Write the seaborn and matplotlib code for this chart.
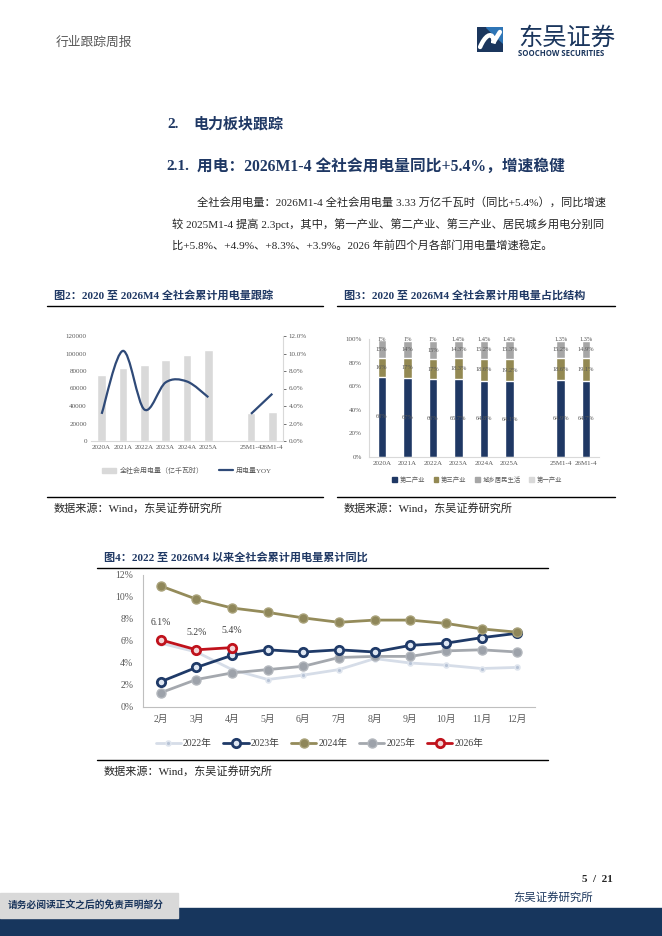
import numpy as np
import pandas as pd
import matplotlib
matplotlib.use('Agg')
import matplotlib.pyplot as plt
import seaborn as sns
from matplotlib.lines import Line2D
from matplotlib.patches import Rectangle, Patch, PathPatch, Polygon
from matplotlib.path import Path

sns.set_theme(style='white')
FAM = ['Liberation Serif', 'Noto Sans CJK SC']
plt.rcParams['font.family'] = FAM
plt.rcParams['axes.unicode_minus'] = False

# ---- data ----
cats2 = ['2020A', '2021A', '2022A', '2023A', '2024A', '2025A', '25M1-4', '26M1-4']
power_use = [75110, 83128, 86372, 92241, 98521, 103500, 31600, 33300]   # 亿千瓦时
power_yoy = [3.1, 10.3, 3.6, 6.7, 6.8, 5.0, 3.1, 5.4]                   # %

share_ind2 = [68, 67, 66, 65.7, 64.8, 64.1, 64.9, 64.7]
share_ind3 = [16, 17, 17, 18.3, 18.6, 19.2, 18.6, 19.1]
share_res = [15, 14, 15, 14.3, 15.2, 15.3, 15.2, 14.9]
share_ind1 = [1, 1, 1, 1.4, 1.4, 1.4, 1.3, 1.3]
share_names = ['第二产业', '第三产业', '城乡居民生活', '第一产业']

months = ['2月', '3月', '4月', '5月', '6月', '7月', '8月', '9月', '10月', '11月', '12月']
yoy_2022 = [5.8, 5.0, 3.4, 2.5, 2.9, 3.4, 4.4, 4.0, 3.8, 3.5, 3.6]
yoy_2023 = [2.3, 3.6, 4.7, 5.2, 5.0, 5.2, 5.0, 5.6, 5.8, 6.3, 6.7]
yoy_2024 = [11.0, 9.8, 9.0, 8.6, 8.1, 7.7, 7.9, 7.9, 7.6, 7.1, 6.8]
yoy_2025 = [1.3, 2.5, 3.1, 3.4, 3.7, 4.5, 4.6, 4.6, 5.1, 5.2, 5.0]
yoy_2026 = [6.1, 5.2, 5.4]

NAVY = '#1f3864'
OLIVE = '#938953'
GRAY = '#a6a6a6'
LIGHT = '#d9d9d9'
TXT = '#262626'
TICK = '#595959'

W, H = 662, 936
fig = plt.figure(figsize=(W / 100, H / 100), dpi=100)


def fx(x):
    return x / W


def fy(y):
    return 1 - y / H


def box(x0, y0, x1, y1):
    return [fx(x0), fy(y1), (x1 - x0) / W, (y1 - y0) / H]


def hline(x0, x1, y, lw=1.0, color='black'):
    fig.add_artist(Line2D([fx(x0), fx(x1)], [fy(y), fy(y)], lw=lw, color=color,
                          transform=fig.transFigure))


def put(x, y, s, size, **kw):
    kw.setdefault('color', TXT)
    kw.setdefault('va', 'center')
    fig.text(fx(x), fy(y), s, fontsize=size, **kw)


# ---- page header ----
put(56, 43, '行业跟踪周报', 9.2, color='#595959')

lg = fig.add_axes(box(477, 27, 503, 52))
lg.set_xlim(0, 1)
lg.set_ylim(0, 1)
lg.axis('off')
lg.add_patch(Rectangle((0, 0), 1, 1, color='#1b365d'))
lg.add_patch(Polygon([(0.35, 1), (1, 1), (1, 0.35)], color='#2e75b6'))
swirl = Path([(0.12, 0.2), (0.3, 0.65), (0.55, 0.8), (0.62, 0.55),
              (0.68, 0.3), (0.5, 0.2), (0.88, 0.8)],
             [Path.MOVETO, Path.CURVE4, Path.CURVE4, Path.CURVE4,
              Path.CURVE4, Path.CURVE4, Path.CURVE4])
lg.add_patch(PathPatch(swirl, fc='none', ec='white', lw=3.2, capstyle='round'))
put(518, 38, '东吴证券', 17.5, family='Noto Sans CJK SC', color='#1b365d')
put(518, 54, 'SOOCHOW SECURITIES', 5.6, family='Open Sans', weight='bold', color='#1b365d')

put(167, 124, '2.', 11, weight='bold', color=NAVY)
put(193, 124, '电力板块跟踪', 10.8, weight='bold', color=NAVY)
put(166, 167, '2.1.', 11, weight='bold', color=NAVY)
put(197, 167, '用电：2026M1-4 全社会用电量同比+5.4%，增速稳健', 11.3, weight='bold', color=NAVY)

put(197, 202, '全社会用电量：2026M1-4 全社会用电量 3.33 万亿千瓦时（同比+5.4%），同比增速', 8.1)
put(172, 224, '较 2025M1-4 提高 2.3pct，其中，第一产业、第二产业、第三产业、居民城乡用电分别同', 8.1)
put(172, 245, '比+5.8%、+4.9%、+8.3%、+3.9%。2026 年前四个月各部门用电量增速稳定。', 8.1)

# ---- figure 2 ----
put(54, 295, '图2：2020 至 2026M4 全社会累计用电量跟踪', 8, weight='bold', color=NAVY)
hline(47, 323, 306)
hline(47, 323, 497)
put(54, 508, '数据来源：Wind，东吴证券研究所', 8)

order2 = cats2[:6] + [' '] + cats2[6:]
pos2 = [order2.index(c) for c in cats2]
df2 = pd.DataFrame({'cat': cats2, 'val': power_use, 'yoy': power_yoy, 'pos': pos2})

ax2 = fig.add_axes(box(91, 336, 283, 441))
sns.barplot(data=df2, x='cat', y='val', order=order2, color=LIGHT, saturation=1,
            width=0.4, errorbar=None, ax=ax2)
ax2.set_xlim(-0.5, len(order2) - 0.5)
ax2.set_ylim(0, 120000)
ax2.set_yticks(range(0, 120001, 20000))
ax2.set_xlabel('')
ax2.set_ylabel('')
ax2.tick_params(axis='both', labelsize=5, colors=TICK, length=0, pad=3)
for s in ['left', 'top', 'right']:
    ax2.spines[s].set_visible(False)
ax2.spines['bottom'].set_color(LIGHT)
ax2.spines['bottom'].set_linewidth(0.8)

ax2r = ax2.twinx()
ax2r.set_ylim(0, 12)
ax2r.set_yticks(np.arange(0, 12.1, 2))
ax2r.set_yticklabels([f'{v:.1f}%' for v in np.arange(0, 12.1, 2)])
ax2r.tick_params(axis='y', labelsize=5, colors=TICK, length=2, width=0.6, pad=2)
for s in ['left', 'top', 'bottom']:
    ax2r.spines[s].set_visible(False)
ax2r.spines['right'].set_color(LIGHT)
ax2r.spines['right'].set_linewidth(0.8)


def smooth(xs, ys):
    pts = np.column_stack([xs, ys]).astype(float)
    n = len(pts)
    verts = [pts[0]]
    codes = [Path.MOVETO]
    for i in range(n - 1):
        p0 = pts[i - 1] if i > 0 else pts[i]
        p1, p2 = pts[i], pts[i + 1]
        p3 = pts[i + 2] if i + 2 < n else pts[i + 1]
        verts += [p1 + (p2 - p0) / 6, p2 - (p3 - p1) / 6, p2]
        codes += [Path.CURVE4] * 3
    return Path(verts, codes)


yoy_col = '#2f4a78'
for part in (df2.iloc[:6], df2.iloc[6:]):
    ax2r.add_patch(PathPatch(smooth(part['pos'], part['yoy']), fc='none', ec=yoy_col,
                             lw=1.6, capstyle='butt'))

h2 = [Patch(color=LIGHT), Line2D([], [], color=yoy_col, lw=1.6)]
ax2.legend(h2, ['全社会用电量（亿千瓦时）', '用电量YOY'], loc='center',
           bbox_to_anchor=(0.5, -0.276), ncol=2, frameon=False, fontsize=5,
           handlelength=2.0, handleheight=0.7, columnspacing=2.2, handletextpad=0.5,
           labelcolor=TICK)

# ---- figure 3 ----
put(344, 295, '图3：2020 至 2026M4 全社会累计用电量占比结构', 8, weight='bold', color=NAVY)
hline(337, 615, 306)
hline(337, 615, 497)
put(344, 508, '数据来源：Wind，东吴证券研究所', 8)

ax3 = fig.add_axes(box(369, 339, 599, 457))
layers = [share_ind2, share_ind3, share_res, share_ind1]
colors3 = [NAVY, OLIVE, GRAY, LIGHT]
cum = np.cumsum(np.array(layers, dtype=float), axis=0)
for k in range(3, -1, -1):
    sns.barplot(x=cats2, y=cum[k], order=order2, color=colors3[k], saturation=1,
                width=0.33, errorbar=None, ax=ax3)
for k in range(4):
    base = cum[k] - np.array(layers[k])
    for p, v, b in zip(pos2, layers[k], base):
        lab = f'{v:.0f}%' if float(v).is_integer() else f'{v:.1f}%'
        yv = b + v / 2 if k < 3 else min(b + v / 2 + 0.8, 99.8)
        ax3.text(p, yv, lab, ha='center', va='center', fontsize=4.6, color='#595959')
ax3.set_xlim(-0.5, len(order2) - 0.5)
ax3.set_ylim(0, 100)
ax3.set_yticks(range(0, 101, 20))
ax3.set_yticklabels([f'{v}%' for v in range(0, 101, 20)])
ax3.set_xlabel('')
ax3.set_ylabel('')
ax3.tick_params(axis='both', labelsize=5, colors=TICK, pad=3)
ax3.tick_params(axis='y', length=2, width=0.6)
ax3.tick_params(axis='x', which='major', length=0)
ax3.set_xticks(np.arange(-0.5, len(order2), 1), minor=True)
ax3.tick_params(axis='x', which='minor', length=2, width=0.6, color=LIGHT)
for s in ['top', 'right']:
    ax3.spines[s].set_visible(False)
for s in ['left', 'bottom']:
    ax3.spines[s].set_color(LIGHT)
    ax3.spines[s].set_linewidth(0.8)
h3 = [Patch(color=c) for c in colors3]
ax3.legend(h3, share_names, loc='center', bbox_to_anchor=(0.47, -0.19), ncol=4,
           frameon=False, fontsize=4.6, handlelength=0.7, handleheight=0.7,
           columnspacing=1.4, handletextpad=0.4, labelcolor=TICK)

# ---- figure 4 ----
put(104, 557, '图4：2022 至 2026M4 以来全社会累计用电量累计同比', 8, weight='bold', color=NAVY)
hline(97, 548, 568)
hline(97, 548, 760)
put(104, 771, '数据来源：Wind，东吴证券研究所', 8)

ax4 = fig.add_axes(box(143, 575, 535, 707))
styles = {
    '2022年': dict(color='#d6dde8', marker='o', markersize=3.5, markerfacecolor='#b7c3d6',
                   markeredgecolor='#dfe5ee', markeredgewidth=1.2),
    '2023年': dict(color='#1f3a68', marker='o', markersize=6, markerfacecolor='#dfe7f3',
                   markeredgecolor='#1f3a68', markeredgewidth=2),
    '2024年': dict(color='#948b5a', marker='o', markersize=6.5, markerfacecolor='#8f875a',
                   markeredgecolor='#a9a27a', markeredgewidth=1),
    '2025年': dict(color='#a4a8ae', marker='o', markersize=6.5, markerfacecolor='#9da2aa',
                   markeredgecolor='#b3b7bd', markeredgewidth=1),
    '2026年': dict(color='#c0121c', marker='o', markersize=6, markerfacecolor='#f3d6d8',
                   markeredgecolor='#c0121c', markeredgewidth=2),
}
series = {'2022年': yoy_2022, '2023年': yoy_2023, '2024年': yoy_2024,
          '2025年': yoy_2025, '2026年': yoy_2026}
for name in ['2022年', '2025年', '2023年', '2024年', '2026年']:
    vals = series[name]
    sns.lineplot(x=np.arange(len(vals)), y=vals, ax=ax4, lw=2, **styles[name])
for i, v in enumerate(yoy_2026):
    ax4.annotate(f'{v:.1f}%', (i, v), xytext=(0, 9), textcoords='offset points',
                 ha='center', va='bottom', fontsize=7, color='#404040')
ax4.set_xlim(-0.5, len(months) - 0.5)
ax4.set_ylim(0, 12)
ax4.set_yticks(range(0, 13, 2))
ax4.set_yticklabels([f'{v}%' for v in range(0, 13, 2)])
ax4.set_xticks(range(len(months)))
ax4.set_xticklabels(months)
ax4.set_xticks(np.arange(-0.5, len(months), 1), minor=True)
ax4.tick_params(axis='both', labelsize=7, colors=TICK)
ax4.tick_params(axis='x', which='major', length=0, pad=6)
ax4.tick_params(axis='x', which='minor', length=4, width=0.6, color='#bfbfbf')
ax4.tick_params(axis='y', length=4, width=0.6, color='#bfbfbf', pad=3)
for s in ['top', 'right']:
    ax4.spines[s].set_visible(False)
for s in ['left', 'bottom']:
    ax4.spines[s].set_color('#bfbfbf')
    ax4.spines[s].set_linewidth(0.8)
h4 = [Line2D([], [], lw=2, **styles[n]) for n in series]
ax4.legend(h4, list(series), loc='center', bbox_to_anchor=(0.45, -0.275), ncol=5,
           frameon=False, fontsize=7, handlelength=2.6, columnspacing=1.2,
           handletextpad=0.2, labelcolor='#404040')

# ---- footer ----
put(613, 879, '5  /  21', 8, weight='bold', ha='right')
put(513, 897, '东吴证券研究所', 8.2, color='#1b365d')
fig.add_artist(Rectangle((0, 0), 1, 28 / H, color='#17365d', transform=fig.transFigure))
fig.add_artist(Rectangle((0, fy(918)), fx(178), 25 / H, color=LIGHT,
                         transform=fig.transFigure))
put(8, 906, '请务必阅读正文之后的免责声明部分', 7, weight='bold', color='#1b365d')

fig.savefig('out.png', dpi=100)
